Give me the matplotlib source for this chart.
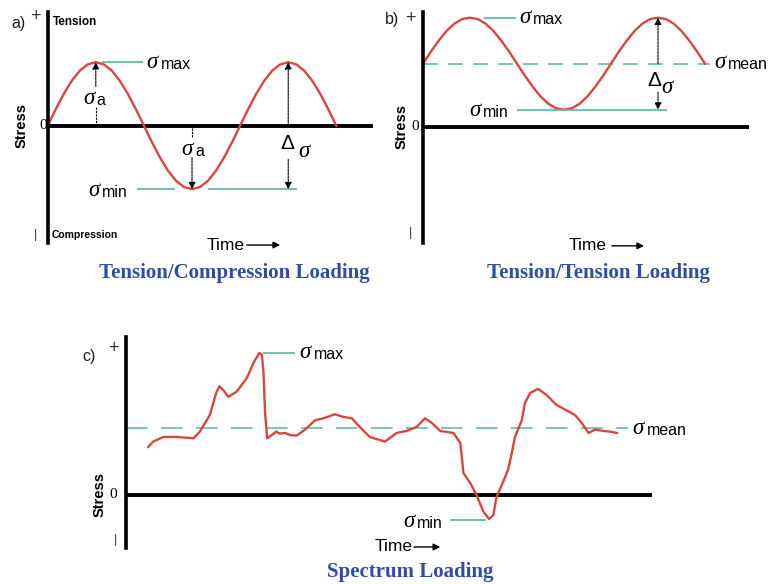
import numpy as np
import matplotlib
matplotlib.use('Agg')
import matplotlib.pyplot as plt

# ---------------- data ----------------
# a) tension/compression: stress in units of sigma_a over 1.5 cycles
stress_a = [0, 0.259, 0.5, 0.707, 0.866, 0.966, 1, 0.966, 0.866, 0.707, 0.5, 0.259,
            0, -0.259, -0.5, -0.707, -0.866, -0.966, -1, -0.966, -0.866, -0.707, -0.5, -0.259,
            0, 0.259, 0.5, 0.707, 0.866, 0.966, 1, 0.966, 0.866, 0.707, 0.5, 0.259, 0]
cycles_a = 1.5
sigma_max_a = 1.0
sigma_min_a = -1.0

# b) tension/tension
stress_b = [1.37, 1.63, 1.87, 2.08, 2.24, 2.34, 2.37, 2.34, 2.24, 2.08, 1.87, 1.63,
            1.37, 1.11, 0.87, 0.66, 0.50, 0.40, 0.37, 0.40, 0.50, 0.66, 0.87, 1.11,
            1.37, 1.63, 1.87, 2.08, 2.24, 2.34, 2.37, 2.34, 2.24, 2.08, 1.87, 1.63, 1.37]
cycles_b = 1.5
sigma_mean_b = 1.37
sigma_max_b = 2.37
sigma_min_b = 0.37

# c) spectrum loading
time_c = [4.3, 5.2, 7.2, 9.7, 12.9, 14.1, 16.0, 17.2, 17.8, 18.6, 19.5, 21.1, 23.0, 24.3,
          25.4, 25.9, 26.2, 26.5, 26.9, 27.8, 28.6, 29.3, 30.3, 31.2, 32.5, 34.1, 36.0,
          37.6, 39.8, 41.4, 43.0, 44.5, 46.4, 49.3, 51.5, 53.4, 55.3, 56.9, 58.2, 59.8,
          62.3, 63.6, 63.9, 64.2, 65.5, 66.7, 68.0, 69.1, 69.9, 70.5, 71.5, 72.7, 73.4,
          74.0, 75.3, 75.9, 76.9, 78.4, 80.0, 81.9, 83.8, 85.4, 86.7, 88.0, 89.2, 90.8,
          92.1, 93.4]
stress_c = [0.72, 0.80, 0.87, 0.87, 0.85, 0.95, 1.20, 1.53, 1.63, 1.57, 1.47, 1.55, 1.75,
            1.98, 2.13, 2.10, 1.83, 1.23, 0.85, 0.90, 0.95, 0.92, 0.93, 0.90, 0.89, 0.98,
            1.12, 1.15, 1.21, 1.17, 1.15, 1.02, 0.87, 0.80, 0.93, 0.96, 1.02, 1.15, 1.08,
            0.96, 0.93, 0.78, 0.57, 0.33, 0.18, 0.00, -0.25, -0.36, -0.30, -0.03, 0.15,
            0.38, 0.63, 0.87, 1.12, 1.38, 1.53, 1.59, 1.50, 1.35, 1.27, 1.20, 1.08, 0.93,
            0.98, 0.96, 0.95, 0.93]
sigma_mean_c = 1.0
sigma_max_c = 2.13
sigma_min_c = -0.37

titles = ['Tension/Compression Loading', 'Tension/Tension Loading', 'Spectrum Loading']
tags = ['a)', 'b)', 'c)']

# ---------------- style ----------------
RED = '#d8473b'
GREEN = '#5fbfa6'
BLUE = '#2d4ea3'
SANS = ['Liberation Sans', 'DejaVu Sans']
SERIF = ['Liberation Serif', 'DejaVu Serif']

W, H = 768, 584
fig = plt.figure(figsize=(W / 100, H / 100), dpi=100)


def px_axes(left, top, right, bottom):
    return fig.add_axes([left / W, 1 - bottom / H, (right - left) / W, (bottom - top) / H])


def setup(ax, xlim, ylim):
    ax.set_xlim(*xlim)
    ax.set_ylim(*ylim)
    for s in ['top', 'right', 'bottom']:
        ax.spines[s].set_visible(False)
    ax.spines['left'].set_linewidth(2.6)
    ax.set_xticks([])
    ax.set_yticks([])
    ax.patch.set_alpha(0)
    ax.axhline(0, color='black', lw=2.8, solid_capstyle='butt')


def sig(ax, x, y, sub, size=16.5, subsize=11.5):
    ax.text(x, y, 'σ', fontsize=size, family=SERIF, style='italic', ha='left',
            va='center', clip_on=False)
    ax.annotate(sub, (x, y), xytext=(10, -1.5), textcoords='offset points',
                fontsize=subsize, family=SANS, ha='left', va='center', annotation_clip=False)


def arrow(ax, tail, head, ls=(0, (2, 1)), lw=0.8, ms=10):
    ax.annotate('', xy=head, xytext=tail, annotation_clip=False,
                arrowprops=dict(arrowstyle='-|>', color='black', lw=lw, linestyle=ls,
                                mutation_scale=ms, shrinkA=0, shrinkB=0))


def common(ax, tag, tag_xy, plus_xy, zero_x, stress_x, bar_xy, time_xy, tarrow, title_xy, title):
    ax.text(*tag_xy, tag, fontsize=11.5, family=SANS, ha='left', va='center', color='#1a1a2a')
    ax.text(*plus_xy, '+', fontsize=13, family=SANS, ha='center', va='center', color='#333333')
    ax.text(zero_x, 0, '0', fontsize=11, family=SERIF, ha='center', va='center')
    ax.text(stress_x, 0, 'Stress', fontsize=10.5, family=SANS, weight='bold', rotation=90,
            ha='center', va='center')
    ax.text(*bar_xy, '|', fontsize=9, family=SANS, ha='center', va='center', color='#333333')
    ax.text(*time_xy, 'Time', fontsize=12.5, family=SANS, ha='left', va='center')
    arrow(ax, (tarrow[0], time_xy[1]), (tarrow[1], time_xy[1]), ls='-', lw=1.0, ms=10)
    ax.text(*title_xy, title, fontsize=15, family=SERIF, weight='bold', color=BLUE,
            ha='center', va='center')


# ---------------- panel a ----------------
axa = px_axes(47.7, 11.7, 372.7, 243)
setup(axa, (0, 1.689), (-1.847, 1.795))
ta = np.linspace(0, cycles_a, len(stress_a))
axa.plot(ta, stress_a, color=RED, lw=1.7, solid_joinstyle='round')
axa.hlines(sigma_max_a, 0.281, 0.497, color=GREEN, lw=1.3)
sig(axa, 0.515, sigma_max_a, 'max')
axa.hlines(sigma_min_a, 0.463, 0.662, color=GREEN, lw=1.3)
axa.hlines(sigma_min_a, 0.833, 1.294, color=GREEN, lw=1.3)
sig(axa, 0.21, sigma_min_a - 0.02, 'min')
# sigma_a up
axa.plot([0.25, 0.25], [0, 0.29], color='black', lw=0.8, ls=(0, (2, 1)))
sig(axa, 0.183, 0.43, 'a')
arrow(axa, (0.25, 0.62), (0.25, sigma_max_a))
# sigma_a down
axa.plot([0.75, 0.75], [-0.04, -0.18], color='black', lw=0.8, ls=(0, (2, 1)))
sig(axa, 0.696, -0.38, 'a')
arrow(axa, (0.75, -0.50), (0.75, sigma_min_a))
# delta sigma
arrow(axa, (1.25, 0), (1.25, sigma_max_a))
axa.text(1.243, -0.28, 'Δ', fontsize=15, family=SANS, ha='center', va='center')
axa.text(1.30, -0.40, 'σ', fontsize=16.5, family=SERIF, style='italic', ha='left', va='center')
arrow(axa, (1.25, -0.53), (1.25, sigma_min_a))
axa.text(0.029, 1.638, 'Tension', fontsize=8.5, family=SANS, weight='bold', ha='left', va='center')
axa.text(0.021, -1.72, 'Compression', fontsize=7.5, family=SANS, weight='bold', ha='left',
         va='center')
common(axa, tags[0], (-0.19, 1.617), (-0.066, 1.717), -0.026, -0.135, (-0.066, -1.72),
       (0.826, -1.879), (1.034, 1.208), (0.968, -2.32), titles[0])

# ---------------- panel b ----------------
axb = px_axes(423, 11.7, 749, 243)
setup(axb, (0, 1.734), (-2.528, 2.5))
tb = np.linspace(0, cycles_b, len(stress_b))
axb.axhline(sigma_mean_b, xmax=1.527 / 1.734, color=GREEN, lw=1.2, ls=(0, (9, 6)))
axb.plot(tb, stress_b, color=RED, lw=1.7, solid_joinstyle='round')
axb.hlines(sigma_max_b, 0.324, 0.493, color=GREEN, lw=1.3)
sig(axb, 0.511, sigma_max_b, 'max')
sig(axb, 1.548, sigma_mean_b + 0.02, 'mean')
axb.hlines(sigma_min_b, 0.5, 1.298, color=GREEN, lw=1.3)
sig(axb, 0.245, sigma_min_b - 0.01, 'min')
arrow(axb, (1.25, sigma_mean_b), (1.25, sigma_max_b))
axb.text(1.229, 1.01, 'Δ', fontsize=15, family=SANS, ha='center', va='center')
axb.text(1.265, 0.86, 'σ', fontsize=16.5, family=SERIF, style='italic', ha='left', va='center')
arrow(axb, (1.25, 0.75), (1.25, sigma_min_b))
common(axb, tags[1], (-0.205, 2.32), (-0.065, 2.36), -0.039, -0.112, (-0.065, -2.31),
       (0.777, -2.59), (1.005, 1.176), (0.931, -3.18), titles[1])

# ---------------- panel c ----------------
axc = px_axes(125.7, 336.7, 651.7, 548)
setup(axc, (0, 100), (-0.795, 2.373))
axc.axhline(sigma_mean_c, xmax=0.955, color=GREEN, lw=1.2, ls=(0, (13, 8)))
axc.plot(time_c, stress_c, color=RED, lw=1.7, solid_joinstyle='round')
axc.hlines(sigma_max_c, 26.1, 32.2, color=GREEN, lw=1.3)
sig(axc, 33.1, sigma_max_c + 0.01, 'max')
sig(axc, 96.4, sigma_mean_c, 'mean')
axc.hlines(sigma_min_c, 61.7, 68.5, color=GREEN, lw=1.3)
sig(axc, 52.7, sigma_min_c - 0.03, 'min')
common(axc, tags[2], (-8.3, 2.07), (-2.36, 2.2), -2.4, -4.9, (-2.0, -0.675),
       (47.4, -0.78), (54.8, 59.8), (54.1, -1.155), titles[2])

fig.savefig('out.png', dpi=100)
